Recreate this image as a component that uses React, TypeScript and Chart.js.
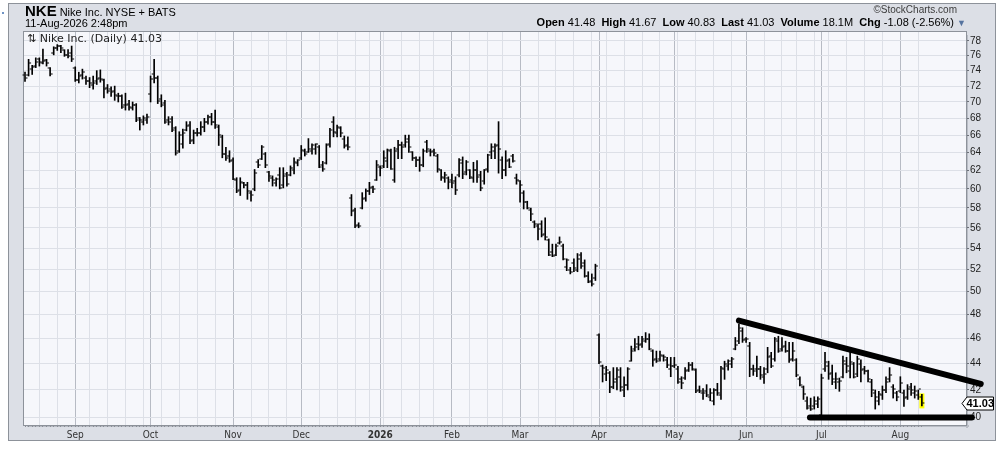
import React, { useEffect, useRef } from 'react';
import { Chart, registerables } from 'chart.js';

Chart.register(...registerables);

// ---------- calendar (categories) ----------
const START_DATE = '2025-08-12';
const HOLIDAYS = [
  '2025-09-01', '2025-11-27', '2025-12-25', '2026-01-01', '2026-01-19',
  '2026-02-16', '2026-04-03', '2026-05-25', '2026-06-19', '2026-07-03',
];
const MONTH_NAMES = ['2026', 'Feb', 'Mar', 'Apr', 'May', 'Jun', 'Jul', 'Aug', 'Sep', 'Oct', 'Nov', 'Dec'];

// ---------- daily OHLC ----------
const OPEN = [
  73.4, 73.4, 74.2, 74.6, 75.6, 75.0, 75.4, 74.4, 76.3, 77.0,
  77.3, 76.8, 76.1, 76.4, 74.3, 72.8, 73.4, 73.1, 72.6, 72.2,
  72.6, 73.0, 72.8, 71.8, 71.6, 71.4, 70.7, 70.8, 69.6, 69.8,
  69.3, 69.6, 68.0, 67.6, 67.8, 71.0, 73.6, 73.0, 70.4, 69.9,
  67.8, 67.9, 66.8, 64.2, 65.0, 66.6, 67.2, 65.4, 66.3, 66.2,
  67.0, 67.6, 68.2, 67.6, 67.0, 65.8, 63.8, 63.6, 63.2, 61.0,
  59.9, 60.6, 60.4, 59.6, 60.0, 62.9, 63.3, 63.8, 61.8, 61.2,
  60.6, 61.5, 60.4, 61.6, 61.5, 62.0, 62.8, 63.4, 64.2, 64.0,
  64.2, 64.4, 64.6, 62.6, 62.8, 65.0, 67.6, 66.2, 66.8, 65.6,
  64.8, 59.0, 57.8, 56.3, 58.0, 59.0, 59.8, 60.2, 60.9, 62.4,
  62.5, 63.0, 64.2, 61.0, 64.4, 64.8, 64.8, 65.6, 64.0, 63.4,
  63.2, 62.6, 65.2, 64.2, 64.2, 63.6, 62.0, 61.2, 61.2, 61.0,
  60.8, 61.5, 62.8, 61.8, 62.0, 61.2, 62.0, 61.5, 60.8, 62.2,
  64.0, 64.2, 64.8, 63.2, 62.0, 63.2, 63.6, 61.2, 60.8, 59.6,
  58.6, 57.8, 56.6, 56.2, 56.4, 55.4, 54.8, 53.6, 53.4, 54.5,
  54.2, 52.2, 52.0, 52.6, 52.0, 53.4, 52.6, 51.4, 51.0, 51.2,
  46.3, 43.8, 43.2, 43.3, 42.2, 42.8, 43.0, 42.0, 42.4, 44.2,
  45.2, 45.6, 45.6, 45.8, 46.0, 45.0, 44.4, 44.4, 44.6, 44.3,
  43.6, 43.8, 43.6, 42.8, 42.9, 43.5, 43.9, 43.5, 42.0, 41.8,
  41.9, 41.5, 41.2, 42.0, 41.6, 43.6, 43.8, 44.0, 45.2, 45.8,
  46.6, 46.0, 45.4, 43.6, 43.6, 43.6, 43.0, 43.6, 44.6, 44.4,
  45.8, 45.2, 45.4, 45.0, 44.4, 44.3, 42.8, 42.2, 41.2, 40.8,
  40.8, 41.0, 40.2, 43.6, 43.8, 43.3, 42.6, 42.6, 43.0, 44.0,
  43.4, 44.0, 43.2, 44.0, 43.6, 43.4, 42.6, 41.8, 41.2, 41.6,
  42.0, 42.8, 42.2, 41.8, 41.9, 41.8, 41.5, 42.2, 41.8, 41.6,
  41.48,
];
const HIGH = [
  73.8, 75.5, 74.7, 75.7, 75.7, 76.9, 75.5, 74.4, 77.2, 77.5,
  77.4, 76.8, 76.8, 77.3, 74.5, 73.8, 74.2, 73.3, 73.1, 73.3,
  74.0, 74.1, 72.9, 72.2, 71.9, 72.0, 71.1, 70.9, 71.1, 70.2,
  70.0, 69.8, 68.1, 68.3, 68.5, 73.3, 75.5, 73.3, 70.9, 70.2,
  68.2, 68.2, 67.0, 66.4, 66.7, 67.6, 67.6, 66.6, 66.8, 67.6,
  68.0, 68.4, 68.6, 69.0, 67.2, 66.0, 64.6, 64.2, 63.4, 61.2,
  61.2, 60.7, 60.7, 59.8, 62.1, 63.2, 64.8, 64.0, 61.9, 61.4,
  61.2, 62.3, 62.3, 61.8, 62.5, 63.4, 63.2, 64.8, 64.4, 65.6,
  65.0, 65.0, 64.8, 63.0, 65.0, 66.8, 68.2, 67.2, 67.0, 65.9,
  65.8, 59.4, 58.0, 56.5, 59.6, 60.0, 60.7, 60.3, 63.1, 62.5,
  64.2, 64.4, 64.4, 64.6, 65.4, 65.2, 66.0, 66.0, 64.1, 63.5,
  63.5, 64.4, 65.4, 64.4, 64.4, 63.8, 62.1, 61.8, 61.3, 61.6,
  61.3, 63.3, 63.5, 63.1, 62.1, 62.9, 63.1, 61.9, 62.1, 63.8,
  65.0, 65.0, 67.6, 63.5, 64.2, 63.3, 63.8, 61.6, 60.9, 59.8,
  58.7, 58.0, 56.7, 56.4, 56.7, 57.0, 54.9, 54.4, 54.4, 55.1,
  54.4, 53.0, 52.2, 53.0, 53.5, 53.6, 52.9, 51.8, 51.6, 52.5,
  46.4, 43.9, 43.8, 43.4, 43.7, 43.7, 43.7, 43.0, 43.7, 45.4,
  46.0, 46.2, 46.2, 46.5, 46.4, 45.1, 45.0, 45.0, 44.7, 44.5,
  44.5, 44.5, 43.8, 43.0, 43.7, 44.1, 44.1, 43.6, 42.3, 42.1,
  42.4, 42.1, 42.1, 42.5, 43.8, 44.2, 44.3, 44.5, 46.1, 47.2,
  46.9, 46.1, 45.7, 43.9, 44.6, 43.8, 43.7, 45.3, 44.9, 46.1,
  46.2, 46.1, 45.8, 45.7, 45.7, 44.4, 43.0, 42.3, 41.5, 41.4,
  41.5, 41.5, 43.2, 44.9, 44.2, 43.9, 43.3, 42.9, 44.6, 44.5,
  44.9, 44.1, 44.6, 44.3, 43.8, 43.5, 42.8, 42.0, 41.9, 42.3,
  43.0, 43.7, 42.4, 41.9, 43.0, 42.0, 42.4, 42.5, 42.3, 42.0,
  41.67,
];
const LOW = [
  72.6, 73.3, 73.5, 74.4, 74.6, 74.9, 74.6, 73.3, 76.1, 76.7,
  76.4, 75.9, 75.7, 75.2, 72.6, 72.4, 72.9, 72.2, 71.8, 71.6,
  72.2, 72.5, 70.5, 71.1, 70.7, 70.2, 70.0, 69.2, 69.0, 69.0,
  69.0, 67.6, 66.6, 67.2, 67.4, 70.0, 72.4, 69.8, 69.4, 67.4,
  67.2, 66.4, 63.7, 64.0, 64.5, 66.5, 65.0, 65.0, 65.9, 66.0,
  66.4, 67.3, 67.2, 66.8, 64.8, 63.4, 63.1, 62.9, 61.0, 59.6,
  59.3, 60.1, 58.9, 58.7, 59.8, 62.3, 63.2, 62.3, 60.8, 60.3,
  60.3, 60.0, 60.1, 60.3, 61.4, 61.6, 62.5, 63.2, 63.6, 64.0,
  63.8, 63.8, 62.3, 61.9, 62.7, 64.6, 65.8, 65.8, 65.8, 64.5,
  64.3, 57.2, 56.0, 56.0, 57.9, 58.7, 59.4, 59.6, 60.9, 61.4,
  62.3, 62.3, 62.1, 60.7, 63.3, 63.3, 64.6, 64.0, 63.1, 62.4,
  61.9, 62.4, 64.0, 63.6, 63.6, 61.8, 60.9, 60.7, 60.0, 60.1,
  59.4, 61.3, 61.1, 61.5, 61.1, 60.7, 60.7, 59.8, 60.5, 61.8,
  63.3, 63.3, 61.7, 61.1, 61.4, 62.3, 62.9, 60.5, 58.6, 57.9,
  57.9, 56.7, 56.0, 54.8, 55.1, 54.8, 53.3, 53.2, 53.3, 54.4,
  52.9, 51.9, 51.6, 51.8, 51.8, 52.1, 51.3, 50.8, 50.5, 51.0,
  44.0, 42.6, 42.7, 41.8, 42.1, 42.0, 41.9, 41.5, 42.0, 44.2,
  45.0, 45.1, 45.3, 45.7, 45.1, 43.8, 44.1, 44.2, 44.2, 43.7,
  43.0, 43.7, 42.5, 42.1, 42.8, 43.4, 43.5, 41.8, 41.8, 41.3,
  41.5, 41.2, 40.9, 41.6, 41.3, 42.8, 43.5, 43.7, 45.1, 45.6,
  45.7, 45.7, 43.0, 43.1, 43.0, 42.8, 42.5, 43.3, 43.7, 44.2,
  44.9, 45.0, 44.9, 44.1, 44.2, 43.0, 42.3, 41.3, 40.6, 40.5,
  40.6, 40.7, 40.0, 43.4, 42.8, 42.4, 42.1, 41.9, 42.9, 43.3,
  42.9, 42.9, 43.0, 42.6, 43.2, 42.6, 41.5, 40.6, 40.9, 41.3,
  41.8, 42.6, 41.4, 41.2, 41.8, 40.8, 41.3, 41.6, 41.4, 41.3,
  40.83,
];
const CLOSE = [
  73.0, 75.0, 74.5, 75.1, 75.2, 75.3, 75.0, 73.6, 77.0, 77.3,
  77.0, 76.1, 76.0, 75.5, 72.8, 73.3, 73.8, 72.6, 72.4, 72.4,
  72.9, 72.9, 71.6, 71.4, 71.3, 70.9, 70.7, 69.4, 69.6, 69.4,
  69.6, 67.8, 67.8, 68.0, 68.1, 72.9, 73.1, 70.1, 69.6, 67.5,
  67.5, 66.6, 63.9, 66.0, 66.2, 67.1, 65.3, 66.2, 66.3, 67.0,
  67.6, 68.1, 67.6, 67.2, 66.0, 63.8, 63.4, 63.0, 61.1, 59.8,
  60.7, 60.4, 59.8, 59.3, 61.7, 62.6, 64.6, 62.6, 61.4, 60.9,
  61.1, 60.1, 61.4, 60.5, 62.3, 62.9, 63.1, 64.3, 63.8, 64.4,
  64.8, 65.0, 62.4, 62.1, 64.8, 66.6, 66.4, 67.0, 66.2, 64.7,
  64.6, 57.7, 56.2, 56.2, 58.9, 59.8, 60.1, 60.0, 62.6, 62.3,
  63.4, 64.3, 62.2, 64.2, 64.9, 64.6, 65.2, 64.6, 63.4, 63.2,
  62.6, 64.2, 64.4, 64.0, 63.9, 62.1, 61.3, 61.5, 60.7, 60.6,
  59.9, 63.1, 61.6, 62.9, 61.3, 62.0, 61.3, 60.1, 62.0, 63.7,
  64.6, 64.7, 64.4, 62.0, 63.0, 62.4, 63.0, 61.0, 60.4, 58.6,
  58.0, 57.4, 56.4, 55.9, 55.3, 55.1, 53.4, 53.3, 54.2, 54.6,
  53.0, 52.9, 51.8, 52.1, 53.0, 52.3, 51.4, 50.9, 50.7, 52.3,
  44.1, 43.7, 43.5, 42.2, 42.6, 43.5, 42.2, 42.4, 43.6, 45.0,
  45.3, 45.5, 46.0, 46.0, 45.2, 44.3, 44.2, 44.7, 44.5, 43.9,
  43.8, 43.9, 42.6, 42.5, 43.4, 43.9, 43.6, 41.9, 41.9, 41.8,
  41.6, 41.8, 42.0, 41.8, 43.7, 44.0, 44.2, 44.4, 45.5, 46.9,
  45.9, 46.0, 43.6, 43.4, 43.6, 43.1, 43.2, 44.5, 43.8, 46.0,
  45.0, 45.3, 45.0, 44.3, 45.0, 43.1, 42.4, 41.7, 40.7, 40.6,
  41.2, 41.3, 42.9, 44.1, 43.2, 42.8, 42.8, 42.7, 44.2, 43.8,
  44.1, 43.0, 44.4, 43.5, 43.4, 42.8, 42.0, 41.5, 41.7, 42.0,
  42.6, 43.1, 42.1, 41.5, 42.5, 41.4, 42.1, 42.0, 41.9, 42.1,
  41.03,
];

// ---------- hand-drawn trend lines (bar index, price) ----------
const TREND_UPPER_X = [199, 266.4];
const TREND_UPPER_Y = [47.5, 42.45];
const TREND_LOWER_X = [218.8, 263.9];
const TREND_LOWER_Y = [40.0, 40.0];

// ---------- axis ----------
const Y_TICKS = [40, 42, 44, 46, 48, 50, 52, 54, 56, 58, 60, 62, 64, 66, 68, 70, 72, 74, 76, 78];
const Y_MIN = 39.47;
const Y_MAX = 79.25;
const X_MIN = -0.28;
const X_MAX = 262.3;

const LAST_PRICE = '41.03';

const FRAME_BG = '#dcdfe6';
const PLOT_BG = '#f6f7fb';
const GRID = '#dde0e7';
const MONTH_GRID = '#b7bbc4';
const SANS = '"Liberation Sans", Arial, sans-serif';
const NARROW = '"DejaVu Sans Condensed", "Liberation Sans Narrow", "Liberation Sans", sans-serif';

function buildTradingDays(start: string, count: number, holidays: string[]): Date[] {
  const out: Date[] = [];
  const d = new Date(start + 'T00:00:00Z');
  while (out.length < count) {
    const wd = d.getUTCDay();
    const iso = d.toISOString().slice(0, 10);
    if (wd !== 0 && wd !== 6 && !holidays.includes(iso)) out.push(new Date(d.getTime()));
    d.setUTCDate(d.getUTCDate() + 1);
  }
  return out;
}

export default function App() {
  const ref = useRef<HTMLCanvasElement>(null);

  useEffect(() => {
    const canvas = ref.current;
    if (!canvas) return;
    const dates = buildTradingDays(START_DATE, CLOSE.length, HOLIDAYS);
    const monthStart = new Map<number, string>();
    const weekStart = new Set<number>();
    dates.forEach((d, i) => {
      if (i === 0) return;
      const p = dates[i - 1];
      if (d.getUTCMonth() !== p.getUTCMonth()) monthStart.set(i, MONTH_NAMES[d.getUTCMonth()]);
      if (d.getUTCDay() < p.getUTCDay() || (d.getTime() - p.getTime()) > 3 * 86400000) weekStart.add(i);
    });

    const framePlugin = {
      id: 'plotFrame',
      beforeDraw(chart: any) {
        const { ctx, chartArea: a } = chart;
        ctx.save();
        ctx.fillStyle = '#b9bdc5';
        ctx.fillRect(a.right, a.top + 3, 2, a.bottom - a.top);
        ctx.fillRect(a.left + 3, a.bottom, a.right - a.left, 2);
        ctx.fillStyle = PLOT_BG;
        ctx.fillRect(a.left, a.top, a.right - a.left, a.bottom - a.top);
        ctx.restore();
      },
      beforeDatasetsDraw(chart: any) {
        const { ctx, chartArea: a, scales } = chart;
        const x = scales.x;
        const y = scales.y;
        ctx.save();
        ctx.strokeStyle = '#8d929a';
        ctx.lineWidth = 1;
        ctx.strokeRect(a.left - 0.5, a.top - 0.5, a.right - a.left + 1, a.bottom - a.top + 1);
        // yellow highlight on the latest bar
        const i = CLOSE.length - 1;
        const px = x.getPixelForValue(i);
        const top = y.getPixelForValue(HIGH[i]) - 1;
        const bot = y.getPixelForValue(LOW[i]) + 2.5;
        ctx.fillStyle = '#ffff00';
        ctx.fillRect(px - 2.5, top, 5, bot - top);
        ctx.restore();
      },
      afterDatasetDraw(chart: any, args: any) {
        if (args.index !== 0) return;
        const { ctx, scales } = chart;
        const x = scales.x;
        const y = scales.y;
        ctx.save();
        ctx.fillStyle = '#000';
        for (let i = 0; i < CLOSE.length; i++) {
          const px = x.getPixelForValue(i);
          const po = Math.round(y.getPixelForValue(OPEN[i])) - 0.5;
          const pc = Math.round(y.getPixelForValue(CLOSE[i])) - 0.5;
          ctx.fillRect(px - 2.5, po, 2, 1);
          ctx.fillRect(px + 0.5, pc, 2, 1);
        }
        ctx.restore();
      },
      afterDraw(chart: any) {
        const { ctx, chartArea: a, scales } = chart;
        const yc = Math.round(scales.y.getPixelForValue(CLOSE[CLOSE.length - 1])) + 0.5;
        const l = a.right - 4;
        const r = chart.width - 5.5;
        ctx.save();
        ctx.beginPath();
        ctx.moveTo(l, yc);
        ctx.lineTo(l + 5, yc - 6.5);
        ctx.lineTo(r, yc - 6.5);
        ctx.lineTo(r, yc + 6.5);
        ctx.lineTo(l + 5, yc + 6.5);
        ctx.closePath();
        ctx.fillStyle = '#ffffff';
        ctx.fill();
        ctx.strokeStyle = '#000';
        ctx.lineWidth = 1;
        ctx.stroke();
        ctx.fillStyle = '#000';
        ctx.font = `bold 11px ${SANS}`;
        ctx.textAlign = 'center';
        ctx.textBaseline = 'middle';
        ctx.fillText(LAST_PRICE, (l + 5 + r) / 2, yc + 0.5);
        ctx.restore();
      },
    };

    const chart = new Chart(canvas, {
      type: 'bar',
      data: {
        datasets: [
          {
            type: 'bar',
            label: 'NKE',
            data: HIGH.map((h, i) => ({ x: i, y: [LOW[i], h] })) as any,
            backgroundColor: '#000',
            borderWidth: 0,
            barThickness: 1,
            order: 1,
          },
          {
            type: 'line',
            label: 'upper trend',
            data: TREND_UPPER_X.map((v, i) => ({ x: v, y: TREND_UPPER_Y[i] })),
            borderColor: '#000',
            borderWidth: 6,
            pointRadius: 0,
            borderCapStyle: 'round',
            tension: 0,
            clip: false as any,
            order: 0,
          },
          {
            type: 'line',
            label: 'lower trend',
            data: TREND_LOWER_X.map((v, i) => ({ x: v, y: TREND_LOWER_Y[i] })),
            borderColor: '#000',
            borderWidth: 6,
            pointRadius: 0,
            borderCapStyle: 'round',
            tension: 0,
            clip: false as any,
            order: 0,
          },
        ] as any,
      },
      options: {
        animation: false,
        responsive: false,
        devicePixelRatio: 1,
        events: [],
        layout: { padding: { left: 24, top: 32, right: 0, bottom: 8 } },
        plugins: { legend: { display: false }, tooltip: { enabled: false } },
        scales: {
          x: {
            type: 'linear',
            min: X_MIN,
            max: X_MAX,
            offset: false,
            border: { display: false },
            afterBuildTicks: (s: any) => {
              s.ticks = dates.map((_, i) => ({ value: i }));
            },
            afterFit: (s: any) => {
              s.height = 16;
            },
            grid: {
              offset: false,
              lineWidth: 1,
              color: (c: any) =>
                monthStart.has(c.index) ? MONTH_GRID : weekStart.has(c.index) ? GRID : 'rgba(0,0,0,0)',
              tickColor: '#8a8e96',
              tickLength: 2,
            },
            ticks: {
              autoSkip: false,
              maxRotation: 0,
              minRotation: 0,
              padding: 2,
              color: '#333',
              font: (c: any) => ({
                family: NARROW,
                size: 10,
                weight: monthStart.get(c.index) === '2026' ? 'bold' : 'normal',
              }),
              callback: (_v: any, i: number) => monthStart.get(i) || '',
            },
          },
          y: {
            type: 'logarithmic',
            position: 'right',
            min: Y_MIN,
            max: Y_MAX,
            beginAtZero: false,
            border: { display: false },
            afterBuildTicks: (s: any) => {
              s.ticks = Y_TICKS.map((v) => ({ value: v }));
            },
            afterFit: (s: any) => {
              s.width = 33;
            },
            grid: { color: GRID, tickColor: '#6d7179', tickLength: 3 },
            ticks: {
              padding: 1,
              color: '#222',
              font: { family: SANS, size: 10 },
              callback: (v: any) => String(v),
            },
          },
        },
      } as any,
      plugins: [framePlugin],
    });

    return () => chart.destroy();
  }, []);

  const abs = (s: React.CSSProperties): React.CSSProperties => ({ position: 'absolute', whiteSpace: 'nowrap', ...s });

  return (
    <div style={abs({ left: 0, top: 0, width: 999, height: 449, background: '#ffffff', fontFamily: SANS, color: '#000' })}>
      <div style={abs({ left: 2, top: 12, width: 2, height: 2, background: '#6f93c4' })} />
      <div
        style={abs({
          left: 8,
          top: 3,
          width: 988,
          height: 438,
          boxSizing: 'border-box',
          border: '1px solid #8d929a',
          background: FRAME_BG,
        })}
      />
      <canvas ref={ref} width={999} height={449} style={abs({ left: 0, top: 0, width: 999, height: 449 })} />
      <div style={abs({ left: 25, top: 3, lineHeight: '16px' })}>
        <span style={{ fontWeight: 'bold', fontSize: 15 }}>NKE</span>
        <span style={{ fontSize: 11, marginLeft: 3 }}>Nike Inc. NYSE + BATS</span>
      </div>
      <div style={abs({ left: 25, top: 17, fontSize: 11, lineHeight: '13px' })}>11-Aug-2026 2:48pm</div>
      <div style={abs({ right: 42, top: 4, fontSize: 10, lineHeight: '12px', color: '#3c3c3c' })}>©StockCharts.com</div>
      <div style={abs({ right: 33, top: 16, fontSize: 11, lineHeight: '13px' })}>
        <b>Open</b> 41.48&nbsp; <b>High</b> 41.67&nbsp; <b>Low</b> 40.83&nbsp; <b>Last</b> 41.03&nbsp; <b>Volume</b> 18.1M&nbsp;{' '}
        <b>Chg</b> -1.08 (-2.56%) <span style={{ color: '#55739f', fontSize: 9 }}>▼</span>
      </div>
      <div style={abs({ left: 27, top: 32, fontSize: 11, lineHeight: '13px', fontFamily: '"DejaVu Sans", sans-serif', color: '#222' })}>
        ⇅ Nike Inc. (Daily) 41.03
      </div>
    </div>
  );
}
